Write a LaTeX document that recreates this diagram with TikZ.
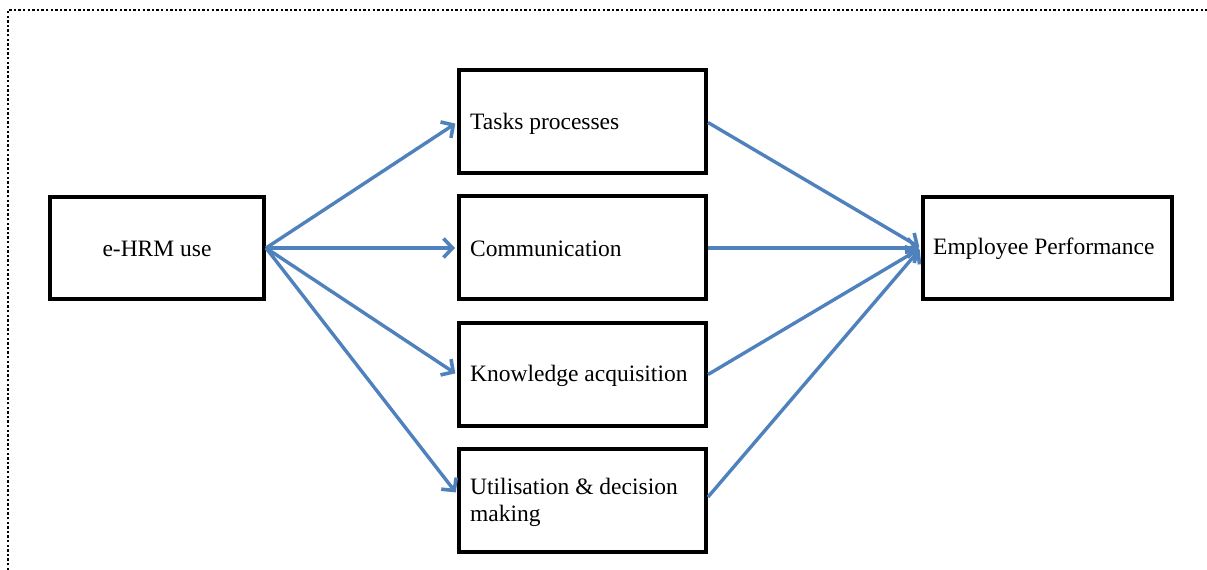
\documentclass[tikz,border=0pt]{standalone}
\usepackage{fontspec}
\setmainfont{Liberation Serif}
\usetikzlibrary{arrows.meta}
\definecolor{linkblue}{HTML}{4F81BD}
\begin{document}
\begin{tikzpicture}[x=1pt,y=1pt,
  box/.style={draw=black,line width=4pt,minimum width=247pt,minimum height=103pt,inner sep=0pt},
  lbl/.style={inner sep=0pt,font=\fontsize{23.5}{27}\selectfont},
  txt/.style={lbl,anchor=west,align=left},
  link/.style={draw=linkblue,line width=3.4pt,shorten >=2pt,
    -{Straight Barb[length=9pt,width=19pt,line width=3.6pt]}}]
\useasboundingbox (0,0) rectangle (1207,570);
% frame (only the top and left edges fall inside the page)
\draw[line width=2.6pt,dash pattern=on 2.4pt off 2.2pt] (8,0) -- (8,560) -- (1207,560);

% boxes
\node[box,minimum width=214pt,minimum height=102pt] (ehrm) at (157,322) {};
\node[box] (tasks) at (582.5,448.5) {};
\node[box] (comm)  at (582.5,322) {};
\node[box] (know)  at (582.5,195.5) {};
\node[box] (util)  at (582.5,69) {};
\node[box,minimum width=249pt,minimum height=102pt] (emp) at (1047.5,322) {};

% labels
\node[lbl] (ehrm-t) at ([yshift=-1pt]ehrm.center) {e-HRM use};
\node[txt] (tasks-t) at ([xshift=13pt,yshift=-2pt]tasks.west) {Tasks processes};
\node[txt] (comm-t)  at ([xshift=13pt,yshift=-1pt]comm.west) {Communication};
\node[txt] (know-t)  at ([xshift=13pt,yshift=-1pt]know.west) {Knowledge acquisition};
\node[txt] (util-t)  at ([xshift=13pt,yshift=-1pt]util.west) {Utilisation \& decision\\making};
\node[txt] (emp-t)   at ([xshift=12pt,yshift=-1pt]emp.west) {Employee Performance};

% connectors
\draw[link] (ehrm.east) -- ([yshift=-1pt]tasks.west);
\draw[link] (ehrm.east) -- (comm.west);
\draw[link] (ehrm.east) -- (know.west);
\draw[link] (ehrm.east) -- ([yshift=7pt]util.west);
\draw[link] ([yshift=-1pt]tasks.east) -- (emp.west);
\draw[link] (comm.east) -- (emp.west);
\draw[link] (know.east) -- (emp.west);
\draw[link] ([yshift=4pt]util.east) -- (emp.west);
\end{tikzpicture}
\end{document}
